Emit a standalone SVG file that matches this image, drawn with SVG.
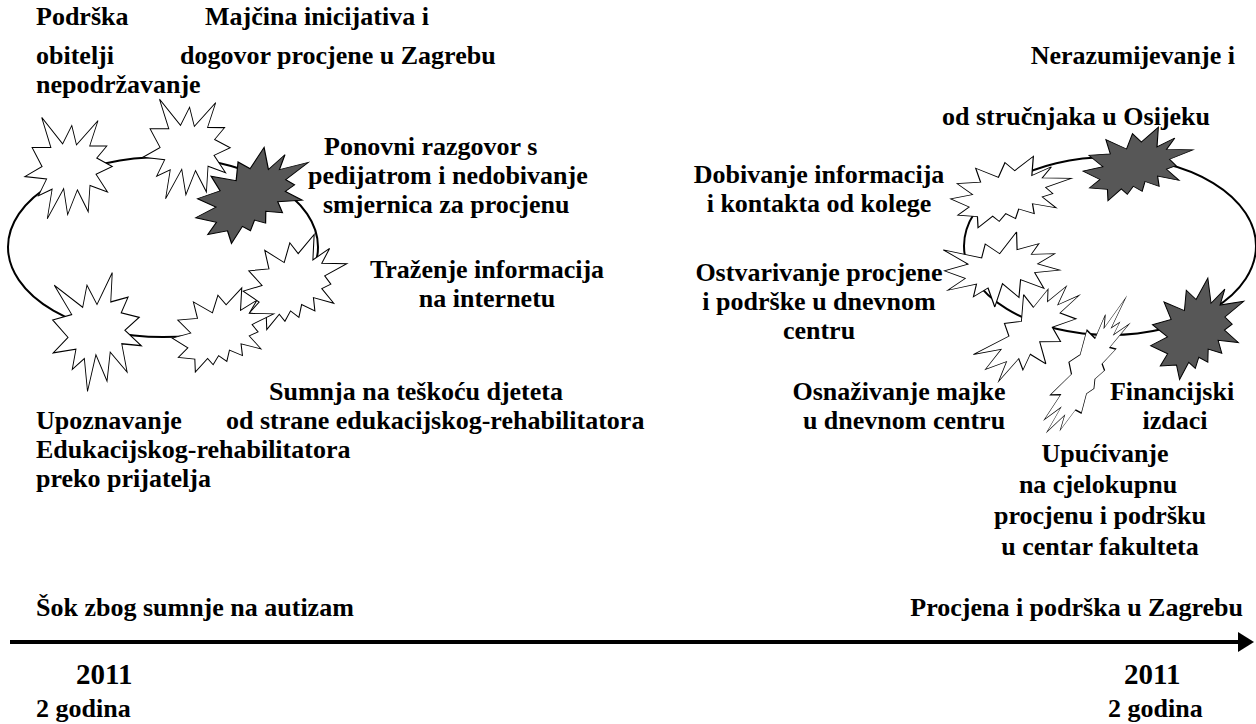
<svg xmlns="http://www.w3.org/2000/svg" xmlns:xlink="http://www.w3.org/1999/xlink" width="1256" height="724" viewBox="0 0 1256 724">
<style>
  text { font-family: "Liberation Serif", "Times New Roman", serif; font-weight: bold; font-size: 26px; fill: #000; }
  .big { font-size: 29px; }
  .mid { text-anchor: middle; }
  .end { text-anchor: end; }
  .star { fill: #fff; stroke: #000; stroke-width: 2.2; stroke-linejoin: miter; vector-effect: non-scaling-stroke; }
  .dark { fill: #575757; }
  .loop { fill: none; stroke: #000; stroke-width: 2; }
</style>
<defs>
  <polygon id="ex1" points="0,-50 37.22,-108 33.55,-54.75 75.8,-63.43 59.02,-34.85 102.97,-26.63 68.07,-3.25 108,24.9 60.37,21.42 73.45,72.95 32.2,36.57 24.47,89.37 -2.68,41.35 -23.15,108 -30.85,48.27 -60.38,68.17 -51.33,31.37 -106.65,37.87 -70.78,9.75 -108,-21.85 -61.73,-31.83 -104.3,-85.05 -34.88,-44.8 -24.48,-85.05"/>
  <polygon id="ex2" points="6.62,-64.58 39.9,-108 37.25,-50.23 72.07,-76.28 55.8,-42.68 108,-41.55 61.85,-13.98 74.7,4.9 55.8,15.1 80.77,48.32 38.4,35.5 41.42,65.7 13.8,51.35 8.12,80.42 -9.28,65.7 -21,89.12 -32.73,73.25 -58.83,108 -59.95,74.4 -95.15,70.25 -74.7,45.7 -108,20.77 -68.65,7.92 -96.28,-25.3 -54.28,-29.83 -62.98,-71.75 -22.5,-44.18 -10.78,-89.13"/>
  <marker id="arrowhead" markerWidth="4" markerHeight="5" refX="0.5" refY="2.5" orient="auto" markerUnits="strokeWidth">
    <polygon points="0,0 4,2.5 0,5" fill="#000"/>
  </marker>
</defs>

<g id="connectors">
  <ellipse class="loop" cx="163" cy="247" rx="155" ry="90"/>
  <ellipse class="loop" cx="1110" cy="246" rx="146" ry="89"/>
</g>

<g id="timeline">
  <line x1="10" y1="642" x2="1240" y2="642" stroke="#000" stroke-width="4" marker-end="url(#arrowhead)"/>
  <text x="36" y="616">Šok zbog sumnje na autizam</text>
  <text x="1243" y="616" class="end">Procjena i podrška u Zagrebu</text>
  <text x="76" y="684" class="big">2011</text>
  <text x="36" y="717">2 godina</text>
  <text x="1124" y="684" class="big">2011</text>
  <text x="1108" y="717">2 godina</text>
</g>

<g id="node-podrska">
  <use xlink:href="#ex1" class="star" transform="translate(70,169) rotate(15) scale(0.39,0.5)"/>
  <text x="36" y="25">Podrška</text>
  <text x="36" y="64">obitelji</text>
  <text x="36" y="93">nepodržavanje</text>
</g>

<g id="node-majcina">
  <use xlink:href="#ex1" class="star" transform="translate(188,150) rotate(15) scale(0.39,0.49)"/>
  <text x="205" y="25">Majčina inicijativa i</text>
  <text x="180" y="64">dogovor procjene u Zagrebu</text>
</g>

<g id="node-ponovni">
  <use xlink:href="#ex2" class="star dark" transform="translate(253,194) rotate(-15) scale(0.57,0.39)"/>
  <text x="324" y="155">Ponovni razgovor s</text>
  <text x="308" y="184">pedijatrom i nedobivanje</text>
  <text x="323" y="213">smjernica za procjenu</text>
</g>

<g id="node-trazenje">
  <use xlink:href="#ex2" class="star" transform="translate(295,282) scale(0.48,0.44)"/>
  <text x="487" y="278" class="mid">Traženje informacija</text>
  <text x="487" y="307" class="mid">na internetu</text>
</g>

<g id="node-sumnja">
  <use xlink:href="#ex2" class="star" transform="translate(223,330) scale(0.47,0.39)"/>
  <text x="269" y="400">Sumnja na teškoću djeteta</text>
  <text x="226" y="429">od strane edukacijskog-rehabilitatora</text>
</g>

<g id="node-upoznavanje">
  <use xlink:href="#ex1" class="star" transform="translate(97,332) scale(0.41,0.55)"/>
  <text x="36" y="429">Upoznavanje</text>
  <text x="36" y="458">Edukacijskog-rehabilitatora</text>
  <text x="36" y="487">preko prijatelja</text>
</g>

<g id="node-nerazumijevanje">
  <use xlink:href="#ex2" class="star dark" transform="translate(1138,164) scale(0.51,0.34)"/>
  <text x="1235" y="64" class="end">Nerazumijevanje i</text>
  <text x="942" y="125">od stručnjaka u Osijeku</text>
</g>

<g id="node-dobivanje">
  <use xlink:href="#ex2" class="star" transform="translate(1011,192) scale(0.56,0.33)"/>
  <text x="819" y="183" class="mid">Dobivanje informacija</text>
  <text x="819" y="212" class="mid">i kontakta od kolege</text>
</g>

<g id="node-ostvarivanje">
  <use xlink:href="#ex1" class="star" transform="translate(1002,270) rotate(-8) scale(0.53,0.33)"/>
  <text x="819" y="281" class="mid">Ostvarivanje procjene</text>
  <text x="819" y="310" class="mid">i podrške u dnevnom</text>
  <text x="819" y="339" class="mid">centru</text>
</g>

<g id="node-osnazivanje">
  <use xlink:href="#ex1" class="star" transform="translate(1032,332) rotate(-45) scale(0.55,0.3)"/>
  <text x="899" y="400" class="mid">Osnaživanje majke</text>
  <text x="904" y="429" class="mid">u dnevnom centru</text>
</g>

<g id="node-upucivanje">
  <use xlink:href="#ex2" class="star" transform="translate(1088,366) rotate(-55) scale(0.72,0.2)"/>
  <text x="1105" y="462" class="mid">Upućivanje</text>
  <text x="1098" y="493" class="mid">na cjelokupnu</text>
  <text x="1100" y="524" class="mid">procjenu i podršku</text>
  <text x="1100" y="555" class="mid">u centar fakulteta</text>
</g>

<g id="node-financijski">
  <use xlink:href="#ex2" class="star dark" transform="translate(1198,328) rotate(-10) scale(0.46,0.44)"/>
  <text x="1172" y="400" class="mid">Financijski</text>
  <text x="1175" y="429" class="mid">izdaci</text>
</g>
</svg>
